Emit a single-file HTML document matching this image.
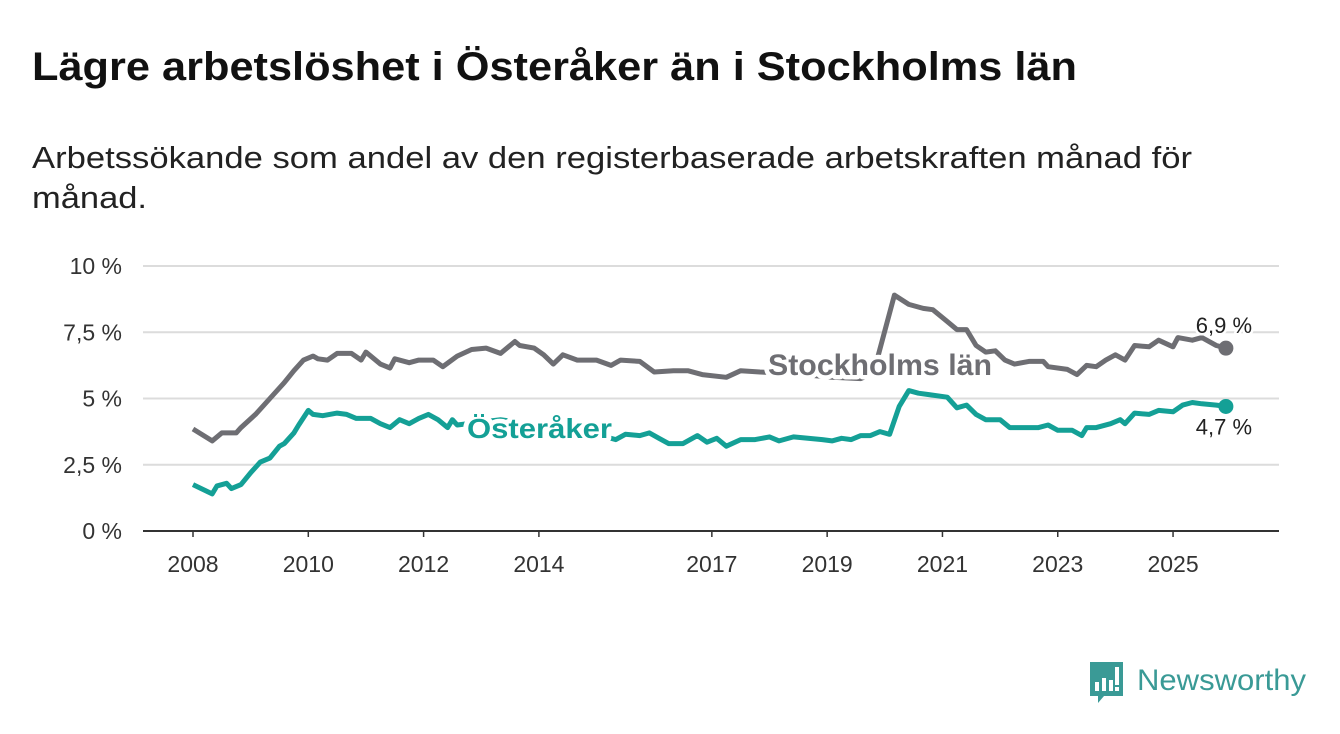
<!DOCTYPE html>
<html><head><meta charset="utf-8"><style>
html,body{margin:0;padding:0;background:#fff;}
svg{display:block;font-family:"Liberation Sans","DejaVu Sans",sans-serif;}
</style></head><body>
<svg id="chart" width="1340" height="734" viewBox="0 0 1340 734">
<text x="32" y="80" font-size="40" font-weight="bold" fill="#111" textLength="1045" lengthAdjust="spacingAndGlyphs">Lägre arbetslöshet i Österåker än i Stockholms län</text>
<text x="32" y="168" font-size="31" fill="#222" textLength="1160" lengthAdjust="spacingAndGlyphs">Arbetssökande som andel av den registerbaserade arbetskraften månad för</text>
<text x="32" y="208" font-size="31" fill="#222" textLength="115" lengthAdjust="spacingAndGlyphs">månad.</text>
<g id="grid"></g><g id="series"></g><g id="labels"></g>
<g>
<path d="M1090 662 H1123 V696 H1104 L1098 703 V696 H1090 Z" fill="#3a9a96"/>
<rect x="1095" y="682" width="4" height="9" fill="#fff"/><rect x="1102" y="678" width="4" height="13" fill="#fff"/><rect x="1109" y="680" width="4" height="11" fill="#fff"/><rect x="1115" y="667" width="4" height="18" fill="#fff"/><rect x="1115" y="687" width="4" height="4" fill="#fff"/>
<text x="1137" y="690" font-size="30" fill="#3a9a96" textLength="169" lengthAdjust="spacingAndGlyphs">Newsworthy</text>
</g>
</svg>
<script>
const yTicks=[0,2.5,5,7.5,10];
const yTickLabels=["0 %","2,5 %","5 %","7,5 %","10 %"];
const xTicks=[2008,2010,2012,2014,2017,2019,2021,2023,2025];
const stoMonths=[0,4,6,9,10,13,16,19,21,23,25,26,28,30,33,35,36,39,41,42,45,47,50,52,55,58,61,64,67,68,71,73,75,77,80,84,87,89,93,96,100,103,106,111,114,118,124,133,139,141,142,146,149,152,154,157,159,161,163,165,167,169,171,174,177,178,182,184,186,188,190,192,194,196,199,201,204,205,208,210,213,215];
const stoValues=[3.85,3.4,3.7,3.7,3.9,4.4,5.0,5.6,6.05,6.45,6.6,6.5,6.45,6.7,6.7,6.45,6.75,6.3,6.15,6.5,6.35,6.45,6.45,6.2,6.6,6.85,6.9,6.7,7.15,7.0,6.9,6.65,6.3,6.65,6.45,6.45,6.25,6.45,6.4,6.0,6.05,6.05,5.9,5.8,6.05,6.0,5.95,5.8,5.75,5.9,6.2,8.9,8.55,8.4,8.35,7.9,7.6,7.6,7.0,6.75,6.8,6.45,6.3,6.4,6.4,6.2,6.1,5.9,6.25,6.2,6.45,6.65,6.45,7.0,6.95,7.2,6.95,7.3,7.2,7.3,7.0,6.9];
const ostMonths=[0,4,5,7,8,10,12,14,16,18,19,21,22,24,25,27,30,32,34,37,39,41,43,45,47,49,51,53,54,55,64,76,85,88,90,93,95,97,99,102,105,107,109,111,114,117,120,122,125,131,133,135,137,139,141,143,145,147,149,151,153,157,159,161,163,165,168,170,172,176,178,180,183,185,186,188,191,193,194,196,199,201,204,206,208,210,213,215];
const ostValues=[1.75,1.4,1.7,1.8,1.6,1.75,2.2,2.6,2.75,3.2,3.3,3.7,4.0,4.55,4.4,4.35,4.45,4.4,4.25,4.25,4.05,3.9,4.2,4.05,4.25,4.4,4.2,3.9,4.2,4.0,4.2,3.9,3.6,3.45,3.65,3.6,3.7,3.5,3.3,3.3,3.6,3.35,3.5,3.2,3.45,3.45,3.55,3.4,3.55,3.45,3.4,3.5,3.45,3.6,3.6,3.75,3.65,4.7,5.3,5.2,5.15,5.05,4.65,4.75,4.4,4.2,4.2,3.9,3.9,3.9,4.0,3.8,3.8,3.6,3.9,3.9,4.05,4.2,4.05,4.45,4.4,4.55,4.5,4.75,4.85,4.8,4.75,4.7];
const NS="http://www.w3.org/2000/svg";
const x0=193, pxYear=57.65, y0=531, pxPct=26.5;
function xm(m){return x0+m/12*pxYear;}
function xy(yr){return x0+(yr-2008)*pxYear;}
function yv(v){return y0-v*pxPct;}
function mk(tag,attrs,parent,txt){const e=document.createElementNS(NS,tag);for(const k in attrs)e.setAttribute(k,attrs[k]);if(txt!==undefined)e.textContent=txt;parent.appendChild(e);return e;}
const grid=document.getElementById('grid'),ser=document.getElementById('series'),lab=document.getElementById('labels');
yTicks.forEach((t,i)=>{
  const l=mk('line',{x1:143,x2:1279,y1:yv(t),y2:yv(t),stroke:t===0?'#333':'#dcdcdc','stroke-width':2},grid);
  
  
  const tx=mk('text',{x:122,y:yv(t)+8,'text-anchor':'end','font-size':23,fill:'#333'},grid,yTickLabels[i]);
  
  
});
xTicks.forEach(t=>{
  mk('line',{x1:xy(t),x2:xy(t),y1:531,y2:537,stroke:'#333','stroke-width':1.5},grid);
  const tx=mk('text',{x:xy(t),y:572,'text-anchor':'middle','font-size':23,fill:'#333'},grid,String(t));
  
  
});
function line(ms,vs,color,name){
  const d=ms.map((m,i)=>(i?'L':'M')+xm(m).toFixed(1)+' '+yv(vs[i]).toFixed(1)).join(' ');
  const p=mk('path',{d:d,fill:'none',stroke:color,'stroke-width':5,'stroke-linejoin':'round'},ser);
  
  
  const n=ms.length-1;
  const c=mk('circle',{cx:xm(ms[n]),cy:yv(vs[n]),r:7.5,fill:color},ser);
  
  
}
line(stoMonths,stoValues,'#6e6e73','stockholm');
line(ostMonths,ostValues,'#14a096','osteraker');
function label(x,y,txt,color,size,bold,name,anchor,len){
  const a={x:x,y:y,'font-size':size,'font-weight':bold?'bold':'normal',fill:color,stroke:'#fff','stroke-width':bold?9:5,'paint-order':'stroke','stroke-linejoin':'round','text-anchor':anchor||'start'};
  if(len){a.textLength=len;a.lengthAdjust='spacingAndGlyphs';}
  const t=mk('text',a,lab,txt);
  
  
}
label(768,375,'Stockholms län','#6e6e73',30,true,'stockholm-series-label','start',224);
label(467,438,'Österåker','#14a096',28,true,'osteraker-series-label','start',145);
const ns=stoMonths.length-1, no=ostMonths.length-1;
label(xm(stoMonths[ns])-2,yv(stoValues[ns])-15,stoValues[ns].toFixed(1).replace('.',',')+' %','#222',22,false,'stockholm-last-value','middle');
label(xm(ostMonths[no])-2,yv(ostValues[no])+28,ostValues[no].toFixed(1).replace('.',',')+' %','#222',22,false,'osteraker-last-value','middle');
</script>
</body></html>
